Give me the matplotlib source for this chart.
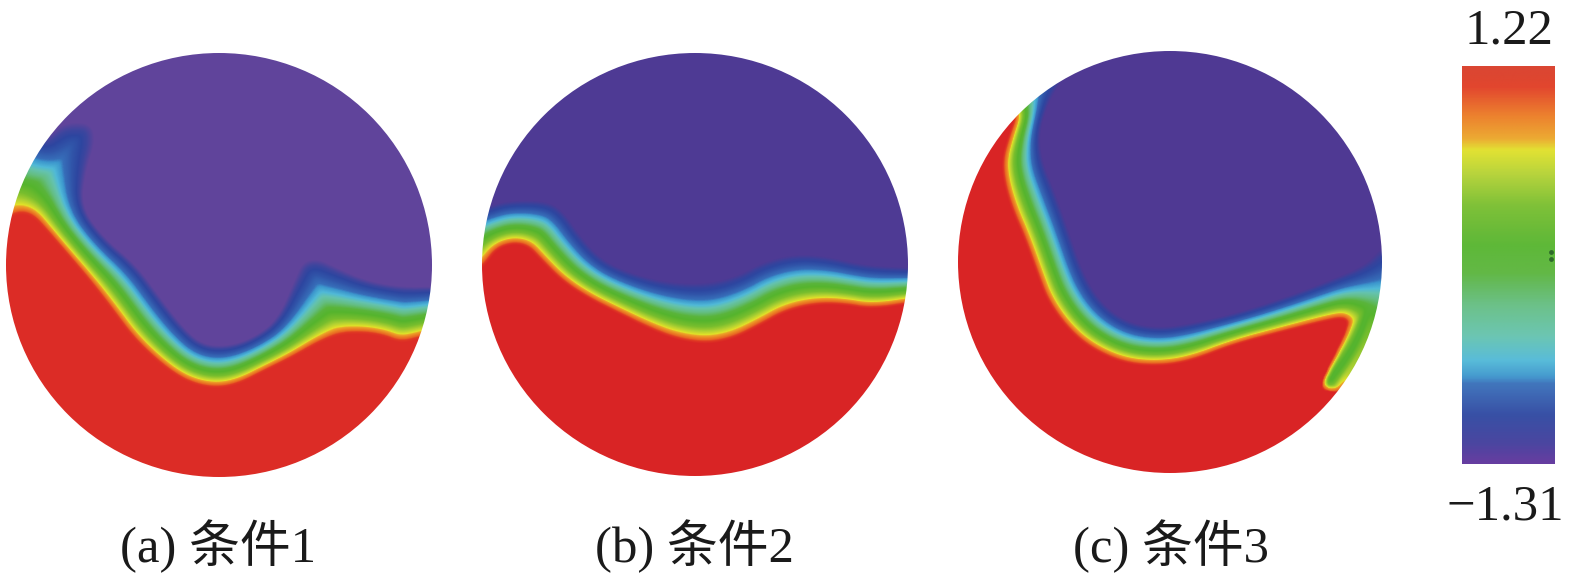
#!/usr/bin/env python3
"""Campo en tres discos (condiciones 1-3) con su barra de color."""
import numpy as np
import matplotlib
matplotlib.use("Agg")
import matplotlib.pyplot as plt
from matplotlib.colors import LinearSegmentedColormap
from matplotlib.patches import Ellipse
from matplotlib.path import Path

W, H = 1575, 581

# discos: centro x, centro y, radio x, radio y (pixeles de la referencia)
DISC_A = (219, 265, 213, 212)
DISC_B = (695, 264.5, 213, 211.5)
DISC_C = (1170, 262, 212, 211)

# borde de la zona roja (minimo de la banda)
LOWER_A = [(0, 219), (8, 217), (20, 212), (33, 215), (47, 230), (67, 253), (90, 280), (113, 310),
           (133, 337), (157, 360), (180, 377), (200, 385), (220, 387), (240, 382), (263, 370),
           (290, 357), (317, 342), (340, 333), (363, 332), (383, 335), (400, 342), (420, 337), (440, 331)]
LOWER_B = [(475, 270), (483, 265), (495, 248), (512, 242), (528, 245), (542, 260), (562, 280),
           (588, 297), (618, 312), (648, 327), (675, 338), (705, 343), (732, 338), (758, 325),
           (785, 310), (815, 303), (842, 303), (872, 308), (915, 301)]
LOWER_C = [(1010, 108), (1018, 115), (1010, 137), (1003, 160), (1005, 183), (1013, 210), (1025, 237),
           (1038, 273), (1048, 300), (1067, 327), (1090, 347), (1123, 362), (1157, 365), (1190, 360),
           (1233, 343), (1283, 330), (1323, 320), (1345, 316), (1350, 327), (1340, 350), (1327, 377),
           (1323, 388), (1338, 390)]

# borde de la zona violeta (maximo de la banda)
UPPER_A = [(45, 135), (63, 120), (92, 120), (99, 140), (87, 173), (82, 207), (103, 237), (137, 265),
           (161, 298), (184, 328), (202, 344), (227, 346), (252, 338), (276, 320), (293, 278),
           (300, 261), (317, 256), (340, 268), (367, 280), (400, 286), (440, 286)]
UPPER_B = [(475, 210), (485, 207), (508, 200), (547, 200), (564, 211), (580, 235), (600, 258),
           (625, 271), (662, 281), (702, 283), (735, 276), (762, 261), (795, 253), (828, 256),
           (865, 265), (915, 268)]
UPPER_C = [(1072, 70), (1059, 87), (1047, 107), (1039, 133), (1042, 160), (1056, 193), (1070, 233),
           (1083, 271), (1100, 301), (1125, 321), (1157, 328), (1193, 323), (1237, 313), (1283, 298),
           (1327, 281), (1363, 265), (1378, 248), (1390, 238)]

# bolsa verde junto al borde del disco c
RIDGE_C = [(1330, 380), (1350, 353), (1363, 327), (1370, 300)]

PURPLE = ["#60449B", "#4E3A94", "#4F3993"]
REDS = ["#DC2C26", "#D92425", "#D92425"]

# barra de color: posicion desde arriba y color
CBAR_POS = [0.0, 0.05, 0.12, 0.18, 0.21, 0.27, 0.35, 0.45, 0.52, 0.60, 0.68, 0.74, 0.78, 0.80, 0.88, 0.95, 1.0]
CBAR_COLORS = ["#D83C28", "#E13C23", "#EB7823", "#EBA528", "#E1E128", "#B4D232", "#78BE2D", "#55B42D",
               "#5AB43C", "#64BE82", "#64C3AF", "#50B9D7", "#3C96CD", "#376EB9", "#2D46A0", "#413C9B", "#5F329B"]

# posicion en la banda -> posicion en la barra
BAND_T = [0.0, 0.03, 0.11, 0.19, 0.36, 0.48, 0.60, 0.68, 0.78, 0.90, 1.0]
BAND_F = [0.0, 0.10, 0.21, 0.30, 0.47, 0.60, 0.74, 0.79, 0.85, 0.90, 0.97]

LABELS = ["(a) 条件1", "(b) 条件2", "(c) 条件3"]
LABEL_X = [120, 595, 1073]
VMAX_LABEL = "1.22"
VMIN_LABEL = "\u22121.31"

# manchita oscura en el borde de la barra
BAR_SPOT_X = [1551, 1551]
BAR_SPOT_Y = [252, 259]


def smooth(points, n=2):
    pts = np.array(points, dtype=float)
    for _ in range(n):
        q = 0.75 * pts[:-1] + 0.25 * pts[1:]
        r = 0.25 * pts[:-1] + 0.75 * pts[1:]
        mid = np.empty((2 * len(q), 2))
        mid[0::2] = q
        mid[1::2] = r
        pts = np.vstack([pts[0], mid, pts[-1]])
    return pts


def dist_to_line(xx, yy, pts):
    best = np.full(xx.shape, np.inf)
    for a, b in zip(pts[:-1], pts[1:]):
        d = b - a
        u = np.clip(((xx - a[0]) * d[0] + (yy - a[1]) * d[1]) / max((d ** 2).sum(), 1e-9), 0, 1)
        best = np.minimum(best, (xx - a[0] - u * d[0]) ** 2 + (yy - a[1] - u * d[1]) ** 2)
    return np.sqrt(best)


def blur(z, n=7):
    k = np.ones(n) / n
    z = np.pad(z, n, mode="edge")
    z = np.apply_along_axis(lambda v: np.convolve(v, k, mode="same"), 0, z)
    z = np.apply_along_axis(lambda v: np.convolve(v, k, mode="same"), 1, z)
    return z[n:-n, n:-n]


def band_field(disc, lower, upper, ridge=None):
    cx, cy, rx, ry = disc
    xs = np.arange(cx - rx - 3, cx + rx + 4)
    ys = np.arange(cy - ry - 3, cy + ry + 4)
    xx, yy = np.meshgrid(xs, ys)
    lo = smooth(lower)
    up = smooth(upper)
    d_lo = dist_to_line(xx, yy, lo)
    d_up = dist_to_line(xx, yy, up)
    t = d_lo / (d_lo + d_up + 1e-9)
    if ridge is not None:
        t = np.maximum(t, 0.40 * np.clip(1 - dist_to_line(xx, yy, smooth(ridge)) / 14, 0, 1))

    far = 3000
    red_poly = np.vstack([lo, [[lo[-1][0], far], [-far, far], [-far, lo[0][1]]]])
    if ridge is not None:
        red_poly = np.vstack([lo, [[far, far], [-far, far], [-far, -far], [lo[0][0], -far]]])
    top_poly = np.vstack([up, [[far, up[-1][1]], [far, -far], [-far, -far], [-far, up[0][1]]]])
    if ridge is not None:
        top_poly = np.vstack([up, [[far, -far], [up[0][0], -far]]])
    pts = np.column_stack([xx.ravel(), yy.ravel()])
    t[Path(red_poly).contains_points(pts).reshape(xx.shape)] = 0
    t[Path(top_poly).contains_points(pts).reshape(xx.shape)] = 1
    return blur(t), (xs[0] - 0.5, xs[-1] + 0.5, ys[-1] + 0.5, ys[0] - 0.5)


def main():
    plt.rcParams["font.family"] = ["Liberation Serif", "Noto Sans CJK SC"]
    fig = plt.figure(figsize=(W / 100, H / 100), dpi=100, facecolor="white")
    ax = fig.add_axes([0, 0, 1, 1])
    ax.set_xlim(0, W)
    ax.set_ylim(H, 0)
    ax.axis("off")

    discs = [DISC_A, DISC_B, DISC_C]
    lowers = [LOWER_A, LOWER_B, LOWER_C]
    uppers = [UPPER_A, UPPER_B, UPPER_C]
    ridges = [None, None, RIDGE_C]
    for i, disc in enumerate(discs):
        stops = list(zip(CBAR_POS, CBAR_COLORS))
        stops[0] = (0.0, REDS[i])
        stops[-1] = (1.0, PURPLE[i])
        stops[-2] = (0.95, PURPLE[i])
        cmap = LinearSegmentedColormap.from_list(f"campo{i}", stops, N=512)
        t, extent = band_field(disc, lowers[i], uppers[i], ridges[i])
        im = ax.imshow(np.interp(t, BAND_T, BAND_F), cmap=cmap, vmin=0, vmax=1, extent=extent,
                       aspect="auto", interpolation="bilinear", zorder=1)
        clip = Ellipse(disc[:2], 2 * disc[2], 2 * disc[3], transform=ax.transData)
        im.set_clip_path(clip)
        ax.text(LABEL_X[i], 562, LABELS[i], fontsize=36.5, color="#1a1a1a", ha="left", va="baseline")

    bar_cmap = LinearSegmentedColormap.from_list("barra", list(zip(CBAR_POS, CBAR_COLORS)), N=512)
    grad = np.linspace(0, 1, 400).reshape(-1, 1)
    ax.imshow(grad, cmap=bar_cmap, extent=(1462, 1555, 464, 66), aspect="auto", zorder=1, alpha=0.95)
    ax.scatter(BAR_SPOT_X, BAR_SPOT_Y, s=12, color="#2E6B2A", linewidths=0, zorder=2)
    ax.set_xlim(0, W)
    ax.set_ylim(H, 0)
    ax.text(1509, 44, VMAX_LABEL, fontsize=36.5, color="#1a1a1a", ha="center", va="baseline")
    ax.text(1505, 520, VMIN_LABEL, fontsize=36.5, color="#1a1a1a", ha="center", va="baseline")

    fig.savefig("out.png", dpi=100)
    plt.close(fig)


if __name__ == "__main__":
    main()
